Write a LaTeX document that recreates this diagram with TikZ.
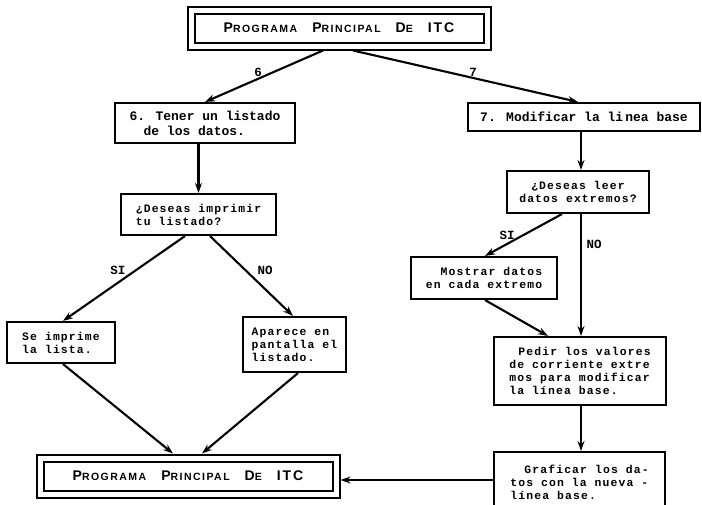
\documentclass[tikz,border=0pt]{standalone}
\usepackage{fontspec}
\setmainfont{Liberation Sans}
\newfontfamily\dotf[LetterSpace=10]{Liberation Mono}
\newfontfamily\typef{Liberation Mono}
\newfontfamily\headf[LetterSpace=14]{Liberation Sans}
\usetikzlibrary{arrows.meta}
\newcommand{\bigsc}[2]{{\fontsize{14}{14}\selectfont #1}{\fontsize{10.5}{10.5}\selectfont #2}}
\newcommand{\hdtext}{\bigsc{P}{ROGRAMA}\hspace{15pt}\bigsc{P}{RINCIPAL}\hspace{15pt}\bigsc{D}{E}\hspace{15pt}\bigsc{ITC}{}}
\begin{document}
\begin{tikzpicture}[x=1pt,y=-1pt,
  box/.style={draw, line width=2.1pt, inner sep=0pt, align=left},
  dot/.style={font=\fontsize{11.4}{13}\dotf\bfseries},
  typ/.style={font=\fontsize{13}{15}\typef\bfseries},
  frame/.style={draw, double, line width=2pt, double distance=5pt, minimum width=296pt, minimum height=36pt, inner sep=0pt, font=\headf\bfseries},
  arr/.style={line width=2.1pt, -{Stealth[length=10pt,width=7pt]}},
  lab/.style={font=\fontsize{12.5}{12.5}\typef\bfseries, inner sep=0pt}]
\fill[white] (0,0) rectangle (702,504);
\useasboundingbox (0,0) rectangle (702,504);
% boxes
\node[frame] (top) at (339,28) {\hdtext};
\node[frame] (bot) at (188,476) {\hdtext};
\node[box,typ,minimum width=180pt,minimum height=40pt] (b6) at (205,123) {6. Tener un listado\\\hspace*{14pt}de los datos.};
\node[box,typ,minimum width=232pt,minimum height=28pt] (b7) at (584,117) {7. Modificar la li\,nea base};
\node[box,dot,minimum width=155pt,minimum height=41pt] (d1) at (198.5,214.5) {¿Deseas imprimir\\tu listado?};
\node[box,dot,minimum width=142pt,minimum height=42pt,align=center] (d2) at (578,192) {¿Deseas leer\\datos extremos?};
\node[box,dot,minimum width=108pt,minimum height=41pt] (imp) at (61,342.5) {Se imprime\\la lista.};
\node[box,dot,minimum width=103pt,minimum height=55pt] (apa) at (294.5,344.5) {Aparece en\\pantalla el\\listado.};
\node[box,dot,minimum width=146pt,minimum height=42pt,align=right] (mos) at (484,278) {Mostrar datos\\en cada extremo};
\node[box,dot,minimum width=172pt,minimum height=68pt] (ped) at (580,371) {\hspace*{9pt}Pedir los valores\\de corriente extre\\mos para modificar\\la línea base.};
\node[box,dot,minimum width=171pt,minimum height=60pt] (gra) at (579.5,482) {\hspace*{14pt}Graficar los da-\\tos con la nueva -\\línea base.};
% labels
\node[lab] (l6) at (258,72) {6};
\node[lab] (l7) at (473,72) {7};
\node[lab] (lsi1) at (118,270) {SI};
\node[lab] (lno1) at (265,270) {NO};
\node[lab] (lsi2) at (507,235) {SI};
\node[lab] (lno2) at (594,244) {NO};
% connectors
\draw[arr] ([xshift=-16pt,yshift=-3.5pt]top.south) -- (b6.north);
\draw[arr] ([xshift=14pt,yshift=-3.5pt]top.south) -- ([xshift=-6pt]b7.north);
\draw[arr] (b6.south -| d1.north) -- (d1.north);
\draw[arr] ([xshift=3pt]d2.north |- b7.south) -- ([xshift=3pt]d2.north);
\draw[arr] ([xshift=-13.5pt]d1.south) -- ([xshift=2pt]imp.north);
\draw[arr] ([xshift=11.5pt]d1.south) -- ([xshift=-1.5pt]apa.north);
\draw[arr] ([xshift=2pt]imp.south) -- ([xshift=-15pt,yshift=3.5pt]bot.north);
\draw[arr] ([xshift=3.5pt]apa.south) -- ([xshift=14pt,yshift=3.5pt]bot.north);
\draw[arr] ([xshift=-16pt]d2.south) -- ([xshift=1pt]mos.north);
\draw[arr] ([xshift=3pt]d2.south) -- ([xshift=3pt]d2.south |- ped.north);
\draw[arr] ([xshift=1pt]mos.south) -- ([xshift=-32pt]ped.north);
\draw[arr] ([xshift=1pt]ped.south) -- ([xshift=1pt]ped.south |- gra.north);
\draw[arr] ([yshift=-4pt]bot.east -| gra.west) -- ([xshift=3.5pt,yshift=-4pt]bot.east);
\end{tikzpicture}
\end{document}
